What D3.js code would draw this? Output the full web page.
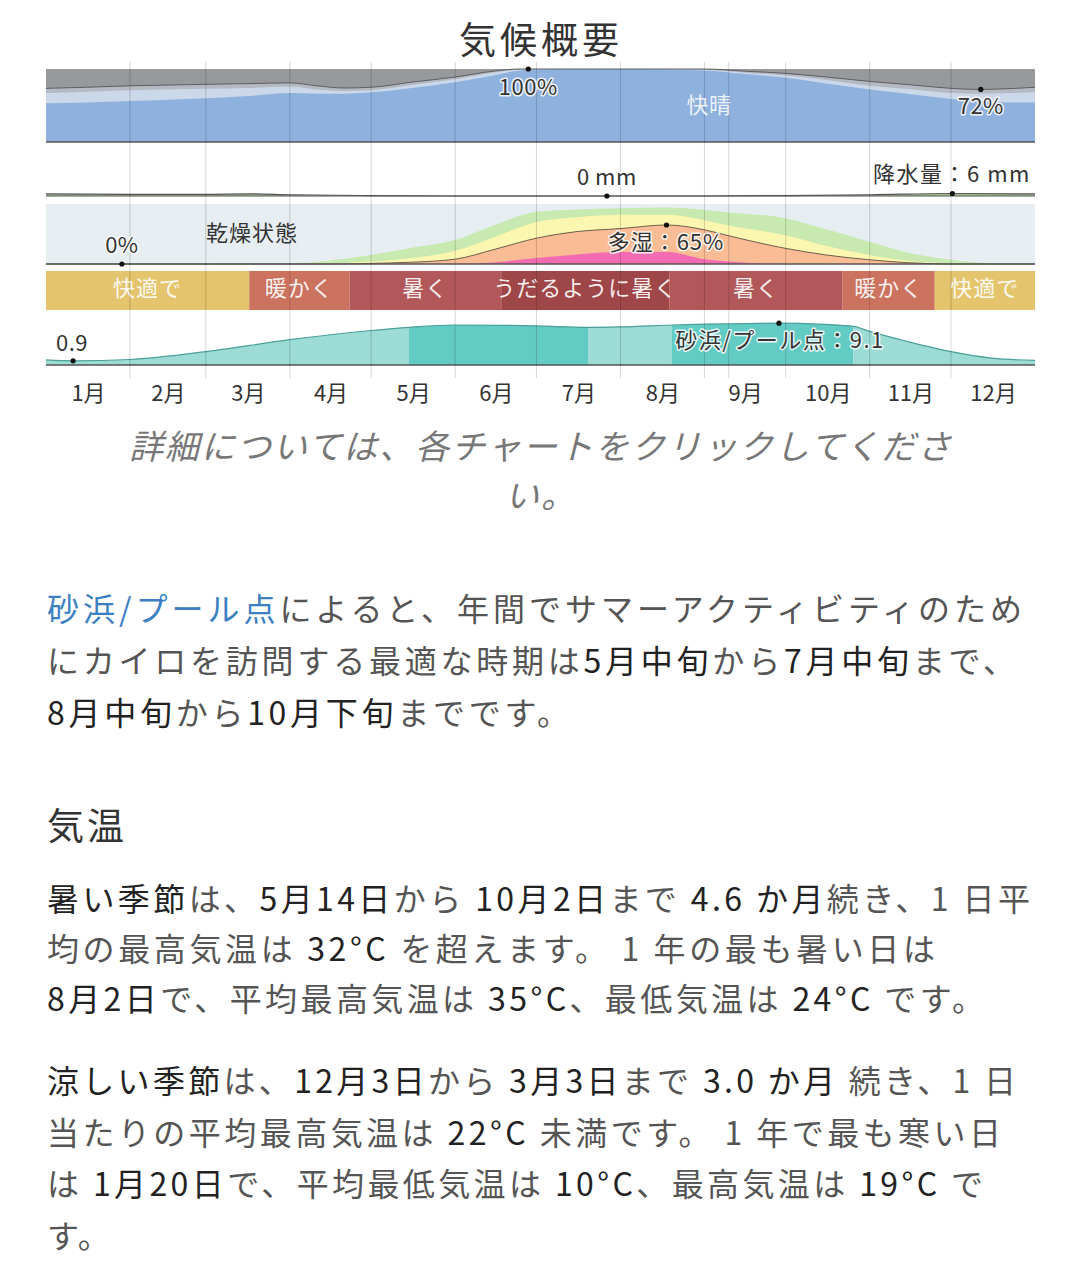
<!DOCTYPE html>
<html>
<head>
<meta charset="utf-8">
<script src="https://cdn.jsdelivr.net/npm/d3@7"></script>
<style>
  html, body { margin: 0; padding: 0; background: #fff; }
  svg { display: block; font-family: "Noto Sans CJK JP", "Noto Sans", sans-serif; }
  text { white-space: pre; }
</style>
</head>
<body>
<div id="chart"></div>
<script>
// ---- data (day of year 0..365) ----
const months = ['1月','2月','3月','4月','5月','6月','7月','8月','9月','10月','11月','12月'];
const monthStarts = [0, 31, 59, 90, 120, 151, 181, 212, 243, 273, 304, 334, 365];
const markerDays = [252];

// cloud cover, cumulative % from bottom
const cloudDays  = [0, 15, 31, 45, 59, 75, 90, 100, 110, 120, 135, 151, 165, 175, 190, 212, 243, 258, 273, 288, 304, 320, 334, 344, 355, 365];
const cloudClear = [53, 54, 56, 58, 60, 63, 67, 66, 66, 68, 74, 82, 91, 98, 100, 100, 98, 93, 88, 80, 72, 65, 59, 56, 54, 54];
const cloudPale  = [67, 69, 71, 72, 73, 74, 76, 72, 70, 71, 78, 86, 95, 99, 100, 100, 99, 95, 91, 85, 77, 72, 67, 66, 67, 68];
const cloudLine  = [73.5, 75, 77, 78, 79, 80, 81, 77, 74, 75, 82, 89, 97, 100, 100, 100, 100, 97, 94, 89, 83, 78, 73.5, 72, 73, 75];

// precipitation, mm
const precipDays = [0, 31, 59, 75, 90, 120, 151, 181, 212, 243, 273, 304, 334, 365];
const precipMm   = [5, 4, 4, 5, 3, 1, 0, 0, 0, 0, 1, 3, 6, 5];

// humidity comfort, cumulative % from bottom
const humDays    = [0, 60, 90, 105, 120, 135, 151, 166, 181, 196, 212, 229, 243, 252, 273, 288, 304, 319, 334, 349, 365];
const humGreen   = [0, 0, 1, 6, 15, 27, 40, 66, 87, 91, 93, 94, 90, 86, 76, 58, 37, 18, 7, 1, 0];
const humYellow  = [0, 0, 0, 1, 4, 10, 22, 46, 70, 78, 82, 82, 73, 64, 48, 30, 15, 5, 1, 0, 0];
const humMuggy   = [0, 0, 0, 0, 1, 3, 8, 25, 43, 54, 59, 65, 57, 47, 26, 15, 7, 2, 0, 0, 0];
const humPink    = [0, 0, 0, 0, 0, 0, 0, 3, 10, 16, 20, 20, 8, 4, 0, 0, 0, 0, 0, 0, 0];

// temperature comfort bands
const comfortStarts = [0, 75, 112, 168, 230, 294, 328];
const comfortEnds   = [75, 112, 168, 230, 294, 328, 365];
const comfortLevels = ['comfortable', 'warm', 'hot', 'sweltering', 'hot', 'warm', 'comfortable'];
const comfortLabels = ['快適で', '暖かく', '暑く', 'うだるように暑く', '暑く', '暖かく', '快適で'];

// beach / pool score 0..10
const beachDays  = [0, 10, 31, 59, 90, 120, 134, 151, 181, 200, 212, 231, 243, 258, 271, 285, 298, 304, 318, 334, 349, 365];
const beachScore = [1.1, 0.9, 1.2, 2.9, 5.5, 7.5, 8.2, 8.7, 8.5, 8.2, 8.3, 8.7, 8.9, 9.0, 9.1, 8.9, 8.4, 7.3, 5.1, 2.9, 1.5, 1.0];
const beachSegStarts = [0, 134, 200, 231, 298];
const beachSegEnds   = [134, 200, 231, 298, 365];
const beachSegLevels = ['fair', 'best', 'fair', 'best', 'fair'];

// text blocks: [segments, line width in px (0 = natural)]
const bestText = [
  [[['砂浜/プール点', 'link'], ['によると、年間でサマーアクティビティのため', 'mute']], 977],
  [[['にカイロを訪問する最適な時期は', 'mute'], ['5月中旬', 'dark'], ['から', 'mute'], ['7月中旬', 'dark'], ['まで、', 'mute']], 970],
  [[['8月中旬', 'dark'], ['から', 'mute'], ['10月下旬', 'dark'], ['までです。', 'mute']], 524]
];
const hotText = [
  [[['暑い季節', 'dark'], ['は、', 'mute'], ['5月14日', 'dark'], ['から ', 'mute'], ['10月2日', 'dark'], ['まで ', 'mute'], ['4.6 か月', 'dark'], ['続き、1 日平', 'mute']], 985],
  [[['均の最高気温は ', 'mute'], ['32°C', 'dark'], [' を超えます。 1 年の最も暑い日は', 'mute']], 890],
  [[['8月2日', 'dark'], ['で、平均最高気温は ', 'mute'], ['35°C', 'dark'], ['、最低気温は ', 'mute'], ['24°C', 'dark'], [' です。', 'mute']], 939]
];
const coldText = [
  [[['涼しい季節', 'dark'], ['は、', 'mute'], ['12月3日', 'dark'], ['から ', 'mute'], ['3月3日', 'dark'], ['まで ', 'mute'], ['3.0 か月', 'dark'], [' 続き、1 日', 'mute']], 971],
  [[['当たりの平均最高気温は ', 'mute'], ['22°C', 'dark'], [' 未満です。 1 年で最も寒い日', 'mute']], 956],
  [[['は ', 'mute'], ['1月20日', 'dark'], ['で、平均最低気温は ', 'mute'], ['10°C', 'dark'], ['、最高気温は ', 'mute'], ['19°C', 'dark'], [' で', 'mute']], 938],
  [[['す。', 'mute']], 0]
];

// ---- drawing ----
const W = 1082, H = 1280;
const svg = d3.select('#chart').append('svg').attr('width', W).attr('height', H);

const x = d3.scaleLinear().domain([0, 365]).range([46, 1035]);
const curve = d3.curveMonotoneX;

const colors = {
  clear: '#8fb1de', pale: '#cbd8ea', lightGray: '#b5b9c1', gray: '#98999d',
  humBg: '#e6eef2', green: '#c8e9b0', yellow: '#fbf6b0', muggy: '#f9bc95', pink: '#f26bb3',
  comfortable: '#e4c46c', warm: '#cc7360', hot: '#b3585a', sweltering: '#9f4649',
  fair: '#9cdcd5', best: '#62cbc3',
  link: '#3d80c2', dark: '#222', mute: '#555'
};

function halo(sel) {
  return sel.attr('stroke', 'rgba(255,255,255,0.85)').attr('stroke-width', 3)
    .attr('paint-order', 'stroke').attr('stroke-linejoin', 'round');
}
function dot(g, cx, cy) {
  g.append('circle').attr('cx', cx).attr('cy', cy).attr('r', 2.6).attr('fill', '#111');
}

// title
svg.append('text').attr('x', W / 2).attr('y', 54).attr('text-anchor', 'middle')
  .attr('font-size', 37).attr('letter-spacing', 4).attr('fill', '#333').text('気候概要');

// cloud panel
const cTop = 69, cBot = 142;
const yc = d3.scaleLinear().domain([0, 100]).range([cBot, cTop]);
const cloud = svg.append('g');
cloud.append('rect').attr('x', x(0)).attr('y', cTop).attr('width', x(365) - x(0)).attr('height', cBot - cTop).attr('fill', colors.gray);
const cloudArea = (vals) => d3.area().curve(curve).x((d, i) => x(cloudDays[i])).y0(cBot).y1((d, i) => yc(vals[i]))(cloudDays);
cloud.append('path').attr('d', cloudArea(cloudLine)).attr('fill', colors.lightGray);
cloud.append('path').attr('d', cloudArea(cloudPale)).attr('fill', colors.pale);
cloud.append('path').attr('d', cloudArea(cloudClear)).attr('fill', colors.clear);
cloud.append('path').attr('fill', 'none').attr('stroke', '#5b5d61').attr('stroke-width', 1)
  .attr('d', d3.line().curve(curve).x((d, i) => x(cloudDays[i])).y((d, i) => yc(cloudLine[i]))(cloudDays));
cloud.append('line').attr('x1', x(0)).attr('x2', x(365)).attr('y1', cBot).attr('y2', cBot).attr('stroke', '#555').attr('stroke-width', 1.5);

// precipitation panel
const pTop = 146, pBot = 196;
const yp = d3.scaleLinear().domain([0, 120]).range([pBot, pTop]);
const precip = svg.append('g');
precip.append('path').attr('fill', '#a9c79a')
  .attr('d', d3.area().curve(curve).x((d, i) => x(precipDays[i])).y0(pBot).y1((d, i) => yp(precipMm[i]))(precipDays));
precip.append('path').attr('fill', 'none').attr('stroke', '#555').attr('stroke-width', 1.2)
  .attr('d', d3.line().curve(curve).x((d, i) => x(precipDays[i])).y((d, i) => yp(precipMm[i]))(precipDays));
precip.append('line').attr('x1', x(0)).attr('x2', x(365)).attr('y1', pBot).attr('y2', pBot).attr('stroke', '#555').attr('stroke-width', 1.2);

// humidity panel
const hTop = 204, hBot = 264;
const yh = d3.scaleLinear().domain([0, 100]).range([hBot, hTop]);
const hum = svg.append('g');
hum.append('rect').attr('x', x(0)).attr('y', hTop).attr('width', x(365) - x(0)).attr('height', hBot - hTop).attr('fill', colors.humBg);
const humArea = (vals) => d3.area().curve(curve).x((d, i) => x(humDays[i])).y0(hBot).y1((d, i) => yh(vals[i]))(humDays);
hum.append('path').attr('d', humArea(humGreen)).attr('fill', colors.green);
hum.append('path').attr('d', humArea(humYellow)).attr('fill', colors.yellow);
hum.append('path').attr('d', humArea(humMuggy)).attr('fill', colors.muggy);
hum.append('path').attr('d', humArea(humPink)).attr('fill', colors.pink);
hum.append('path').attr('fill', 'none').attr('stroke', '#6e5e50').attr('stroke-width', 1)
  .attr('d', d3.line().curve(curve).x((d, i) => x(humDays[i])).y((d, i) => yh(humMuggy[i]))(humDays));
hum.append('line').attr('x1', x(0)).attr('x2', x(365)).attr('y1', hBot).attr('y2', hBot).attr('stroke', '#555').attr('stroke-width', 1.5);

// temperature comfort band
const tTop = 271, tBot = 310;
const band = svg.append('g');
band.selectAll('rect').data(comfortStarts).enter().append('rect')
  .attr('x', (d) => x(d)).attr('y', tTop)
  .attr('width', (d, i) => x(comfortEnds[i]) - x(d)).attr('height', tBot - tTop)
  .attr('fill', (d, i) => colors[comfortLevels[i]]);
band.selectAll('text').data(comfortStarts).enter().append('text')
  .attr('x', (d, i) => x((d + comfortEnds[i]) / 2)).attr('y', tTop + 25)
  .attr('text-anchor', 'middle').attr('font-size', 22).attr('letter-spacing', 1)
  .attr('fill', '#fff').attr('fill-opacity', 0.92)
  .text((d, i) => comfortLabels[i]);

// beach panel
const bTop = 319, bBot = 365;
const yb = d3.scaleLinear().domain([0, 10]).range([bBot, bTop]);
const beach = svg.append('g');
const defs = svg.append('defs');
beachSegStarts.forEach((s, i) => {
  defs.append('clipPath').attr('id', 'seg' + i).append('rect')
    .attr('x', x(s)).attr('y', bTop - 10).attr('width', x(beachSegEnds[i]) - x(s)).attr('height', bBot - bTop + 20);
  beach.append('path').attr('clip-path', 'url(#seg' + i + ')').attr('fill', colors[beachSegLevels[i]])
    .attr('d', d3.area().curve(curve).x((d, j) => x(beachDays[j])).y0(bBot).y1((d, j) => yb(beachScore[j]))(beachDays));
});
beach.append('path').attr('fill', 'none').attr('stroke', '#4a9f98').attr('stroke-width', 1.2)
  .attr('d', d3.line().curve(curve).x((d, i) => x(beachDays[i])).y((d, i) => yb(beachScore[i]))(beachDays));
beach.append('line').attr('x1', x(0)).attr('x2', x(365)).attr('y1', bBot).attr('y2', bBot).attr('stroke', '#555').attr('stroke-width', 1.5);

// grid lines on top
const grid = svg.append('g');
grid.selectAll('line').data(monthStarts.slice(1, 12).concat(markerDays)).enter().append('line')
  .attr('x1', (d) => x(d)).attr('x2', (d) => x(d)).attr('y1', 62).attr('y2', 378)
  .attr('stroke', '#000').attr('stroke-opacity', 0.17).attr('stroke-width', 1);

// month axis
const xAxis = d3.axisBottom(x)
  .tickValues(months.map((m, i) => (monthStarts[i] + monthStarts[i + 1]) / 2))
  .tickFormat((d, i) => months[i]).tickSize(0).tickPadding(0);
const axisG = svg.append('g').attr('transform', 'translate(0,381)').call(xAxis);
axisG.select('.domain').remove();
axisG.selectAll('text').attr('font-size', 22).attr('fill', '#333').attr('dy', '0.9em')
  .attr('font-family', '"Noto Sans CJK JP", sans-serif');

// panel annotations
const ann = svg.append('g').attr('font-size', 22).attr('fill', '#333').attr('letter-spacing', 0.5);
dot(ann, x(178), yc(100));
halo(ann.append('text').attr('x', x(178)).attr('y', 95).attr('text-anchor', 'middle')).text('100%');
ann.append('text').attr('x', 709).attr('y', 113).attr('text-anchor', 'middle').attr('fill', '#fff').attr('fill-opacity', 0.85).text('快晴');
dot(ann, x(345), yc(72));
halo(ann.append('text').attr('x', x(345)).attr('y', 114).attr('text-anchor', 'middle')).text('72%');

dot(ann, x(207), yp(0));
halo(ann.append('text').attr('x', x(207)).attr('y', 185).attr('text-anchor', 'middle')).text('0 mm');
dot(ann, x(334.5), yp(6));
halo(ann.append('text').attr('x', 1031).attr('y', 182).attr('text-anchor', 'end').attr('letter-spacing', 1.5)).text('降水量：6 mm');

dot(ann, x(28), yh(0));
halo(ann.append('text').attr('x', x(28)).attr('y', 253).attr('text-anchor', 'middle')).text('0%');
ann.append('text').attr('x', 206).attr('y', 241).attr('letter-spacing', 1).text('乾燥状態');
dot(ann, x(229), yh(65));
halo(ann.append('text').attr('x', 666).attr('y', 250).attr('text-anchor', 'middle').attr('letter-spacing', 1)).text('多湿：65%');

dot(ann, x(10), yb(0.9));
halo(ann.append('text').attr('x', 72).attr('y', 351).attr('text-anchor', 'middle')).text('0.9');
dot(ann, x(270.5), yb(9.1));
halo(ann.append('text').attr('x', 780).attr('y', 348).attr('text-anchor', 'middle').attr('letter-spacing', 1.5)).text('砂浜/プール点：9.1');

// note below chart
const note = svg.append('g').attr('font-size', 34).attr('fill', '#777').attr('font-style', 'italic')
  .attr('text-anchor', 'middle').attr('letter-spacing', 2);
note.append('text').attr('x', W / 2).attr('y', 459).text('詳細については、各チャートをクリックしてくださ');
note.append('text').attr('x', W / 2).attr('y', 508).text('い。');

// body text
function paragraph(lines, y0, step) {
  lines.forEach((line, li) => {
    const t = svg.append('text').attr('x', 47).attr('y', y0 + li * step)
      .attr('font-size', 32).attr('letter-spacing', 2);
    if (line[1]) t.attr('textLength', line[1]).attr('lengthAdjust', 'spacing');
    line[0].forEach((s) => t.append('tspan').attr('fill', colors[s[1]]).text(s[0]));
  });
}
paragraph(bestText, 621, 52);
svg.append('text').attr('x', 47).attr('y', 840).attr('font-size', 37).attr('letter-spacing', 3)
  .attr('fill', '#333').text('気温');
paragraph(hotText, 911, 50);
paragraph(coldText, 1093, 51.5);
</script>
</body>
</html>
